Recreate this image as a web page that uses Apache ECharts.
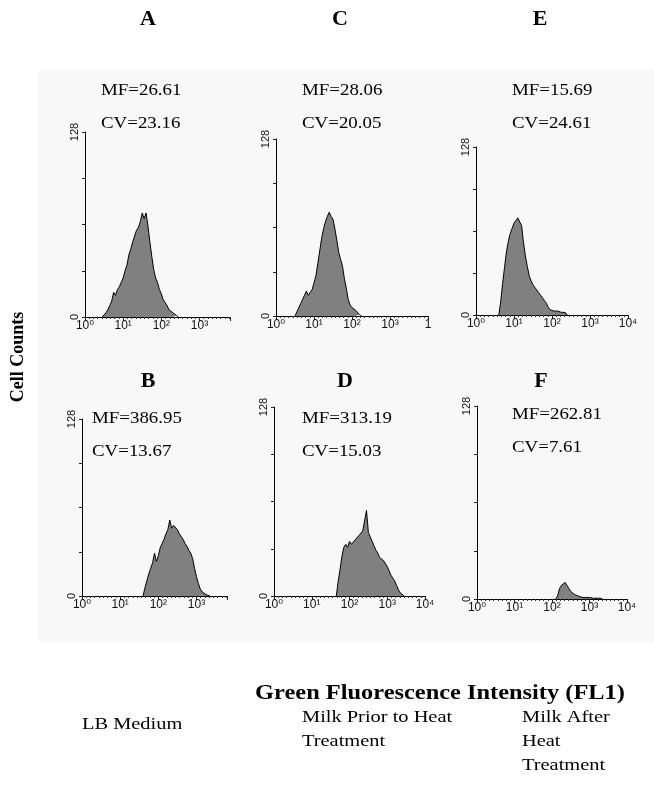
<!DOCTYPE html>
<html>
<head>
<meta charset="utf-8">
<script src="https://cdn.jsdelivr.net/npm/echarts@6/dist/echarts.min.js"></script>
<style>
html,body{margin:0;padding:0;background:#fff;}
#chart{width:654px;height:797px;}
</style>
</head>
<body>
<div id="chart"></div>
<script>
// ---- Data (log10 fluorescence bins, step 0.05 decade; cell counts) ----
const binStep = 0.05;
const startA = 0.45;
const countsA = [0,1,3,5,8,11,17,15,19,21,24,27,32,36,43,47,52,56,60,62,66,72,68,72,63,52,42,33,27,24,19,16,12,10,8,5,4,3,2,1,0];
const startC = 0.50;
const countsC = [0,3,6,9,12,15,18,15,16,19,24,29,38,47,56,63,68,72,75,72,70,63,55,46,41,36,27,20,12,8,6,5,4,3,1,0];
const startE = 0.60;
const countsE = [0,10,24,36,48,56,62,66,70,72,74,73,68,55,45,37,30,26,23,21,19,17,16,13,11,9,6,4,3,3,2,3,2,2,1,2,0];
const startB = 1.60;
const countsB = [0,6,11,16,20,24,31,25,29,35,38,41,45,48,55,49,51,50,48,45,44,41,38,36,33,31,27,20,14,9,5,3,2,1,1,0];
const startD = 1.65;
const countsD = [0,10,18,27,33,35,33,37,35,36,38,39,41,40,44,45,58,43,40,37,34,31,29,26,25,24,23,20,17,14,12,10,7,4,2,1,0];
const startF = 2.10;
const countsF = [0,2,7,9,10,11,9,7,5,4,3,2,2,1,1,1,1,0.5,1,1,0.5,1,0.5,1,0.5,0];

const panelLetters = ['A','C','E','B','D','F'];
const mfValues = ['26.61','28.06','15.69','386.95','313.19','262.81'];
const cvValues = ['23.16','20.05','24.61','13.67','15.03','7.61'];
const yTickLabels = ['0','128'];
const xTickLabels = ['10\u2070','10\u00b9','10\u00b2','10\u00b3','10\u2074'];
const conditions = ['LB Medium','Milk Prior to Heat\nTreatment','Milk After\nHeat\nTreatment'];
const xTitle = 'Green Fluorescence Intensity (FL1)';
const yTitle = 'Cell Counts';

// ---- layout ----
const panels = [
  {start:startA, counts:countsA, grid:{left:85, top:132, width:145, height:185}, xmax:3.8, lastLabel:null},
  {start:startC, counts:countsC, grid:{left:276, top:139, width:152, height:177}, xmax:4, lastLabel:'1'},
  {start:startE, counts:countsE, grid:{left:476, top:147, width:152, height:168}, xmax:4, lastLabel:null},
  {start:startB, counts:countsB, grid:{left:82, top:419, width:145, height:177}, xmax:3.8, lastLabel:null},
  {start:startD, counts:countsD, grid:{left:274, top:407, width:151, height:189}, xmax:4, lastLabel:null},
  {start:startF, counts:countsF, grid:{left:477, top:406, width:150, height:193}, xmax:4, lastLabel:null}
];

const serif = '"Liberation Serif", "Times New Roman", serif';
const sans = '"Liberation Sans", Arial, "DejaVu Sans", sans-serif';

const grids = [], xAxes = [], yAxes = [], series = [];
panels.forEach((p, i) => {
  grids.push(Object.assign({containLabel:false}, p.grid));
  xAxes.push({
    type:'value', gridIndex:i, min:0, max:p.xmax, interval:1,
    axisLine:{show:true, onZero:false, lineStyle:{color:'#000', width:1}},
    axisTick:{show:true, length:4, lineStyle:{color:'#222'}},
    minorTick:{show:true, splitNumber:9, length:2, lineStyle:{color:'#333'}},
    splitLine:{show:false},
    axisLabel:{
      show:true, margin:3, color:'#111', fontFamily:sans, fontSize:12,
      showMaxLabel:true,
      formatter:(v) => {
        const k = Math.round(v);
        if (Math.abs(v - k) > 1e-6) return '';
        if (k === 4 && p.lastLabel) return p.lastLabel;
        return xTickLabels[k];
      }
    }
  });
  yAxes.push({
    type:'value', gridIndex:i, min:0, max:128, interval:32,
    axisLine:{show:true, lineStyle:{color:'#000', width:1}},
    axisTick:{show:true, length:3, lineStyle:{color:'#222'}},
    splitLine:{show:false},
    axisLabel:{
      show:true, rotate:90, margin:5, color:'#111', fontFamily:sans, fontSize:11,
      formatter:(v) => (v === 0 ? yTickLabels[0] : (v === 128 ? yTickLabels[1] : ''))
    }
  });
  series.push({
    type:'line', xAxisIndex:i, yAxisIndex:i,
    data:p.counts.map((c, j) => [+(p.start + j*binStep).toFixed(3), c]),
    symbol:'none', smooth:false,
    lineStyle:{color:'#000', width:1},
    areaStyle:{color:'#808080', opacity:1},
    silent:true, animation:false
  });
});

// texts (reference text is horizontally stretched, hence scaleX)
const letterPos = [[148,20],[340,20],[540,20],[148,382],[345,382],[541,382]];
const statPos = [[101,91],[302,91],[512,91],[92,419],[302,419],[512,415]];
const graphics = [
  {type:'rect', shape:{x:38, y:70, width:616, height:572}, style:{fill:'#f8f8f8'}, z:-10, silent:true}
];
panelLetters.forEach((L, i) => {
  graphics.push({type:'text', x:letterPos[i][0], y:letterPos[i][1], scaleX:1.1,
    style:{text:L, font:'bold 20px ' + serif, fill:'#000', textAlign:'center', textVerticalAlign:'middle'}});
  graphics.push({type:'text', x:statPos[i][0], y:statPos[i][1], scaleX:1.18,
    style:{text:'MF=' + mfValues[i], font:'16px ' + serif, fill:'#000', textAlign:'left', textVerticalAlign:'middle'}});
  graphics.push({type:'text', x:statPos[i][0], y:statPos[i][1] + 33, scaleX:1.18,
    style:{text:'CV=' + cvValues[i], font:'16px ' + serif, fill:'#000', textAlign:'left', textVerticalAlign:'middle'}});
});
graphics.push({type:'text', x:18, y:357, rotation:Math.PI/2,
  style:{text:yTitle, font:'bold 18px ' + serif, fill:'#000', textAlign:'center', textVerticalAlign:'middle'}});
graphics.push({type:'text', x:440, y:694, scaleX:1.22,
  style:{text:xTitle, font:'bold 20px ' + serif, fill:'#000', textAlign:'center', textVerticalAlign:'middle'}});
const condPos = [[82,724],[302,717],[522,717]];
conditions.forEach((t, i) => {
  graphics.push({type:'text', x:condPos[i][0], y:condPos[i][1] - 11, scaleX:1.2,
    style:{text:t, font:'17px ' + serif, fill:'#000', textAlign:'left', textVerticalAlign:'top', lineHeight:24}});
});

const chart = echarts.init(document.getElementById('chart'), null, {renderer:'canvas'});
chart.setOption({
  backgroundColor:'#ffffff',
  animation:false,
  grid:grids, xAxis:xAxes, yAxis:yAxes, series:series,
  graphic:graphics
});
</script>
</body>
</html>
